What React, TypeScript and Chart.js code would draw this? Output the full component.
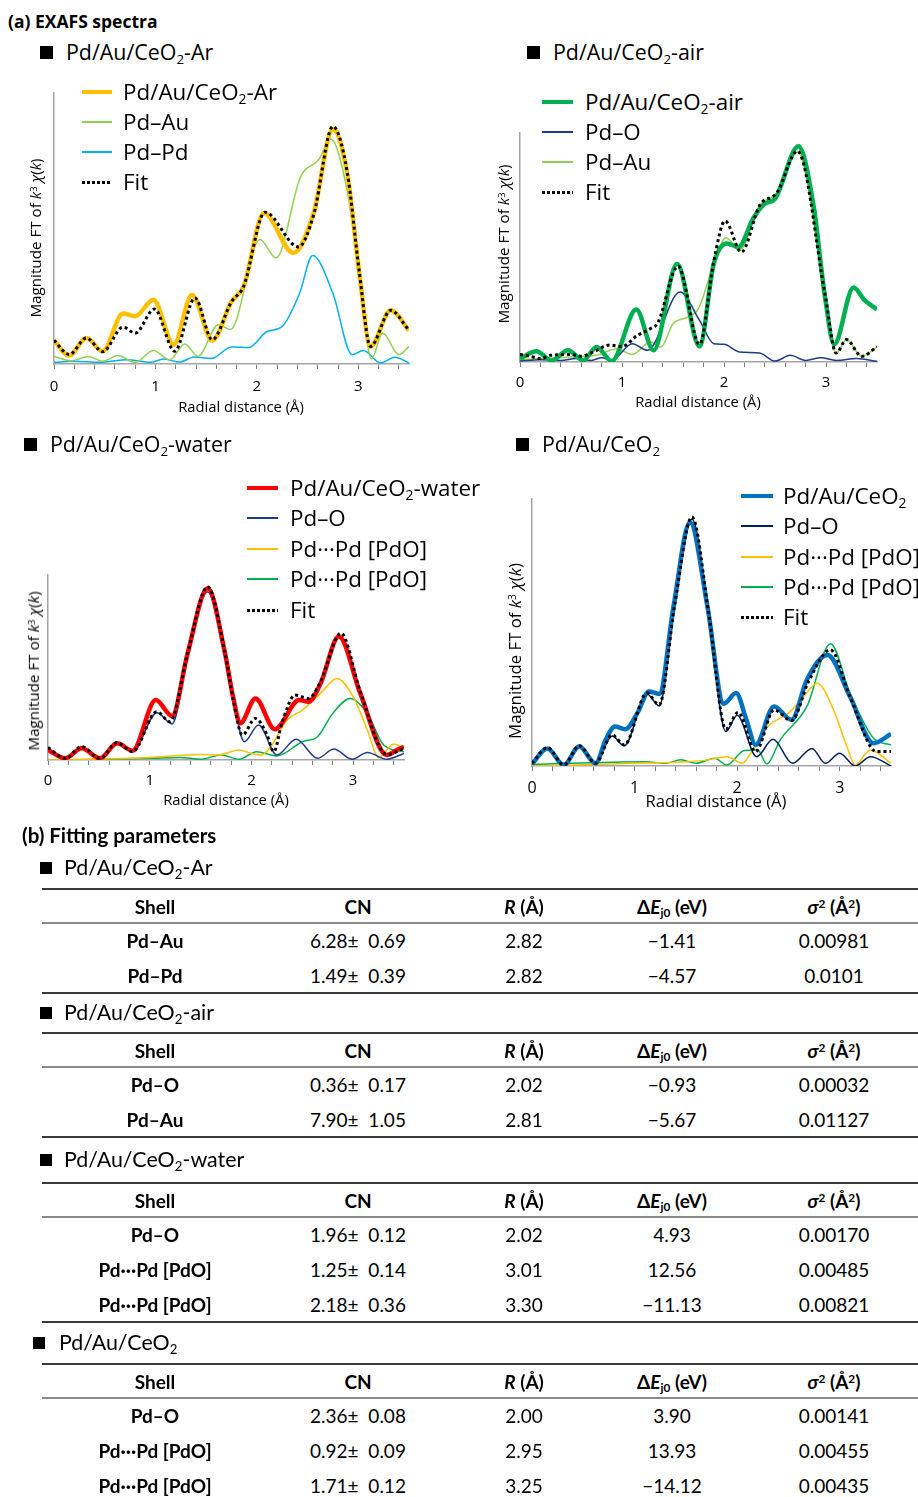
import React, { useEffect, useRef } from 'react';
import { Chart, registerables } from 'chart.js';

Chart.register(...registerables);

type P = [number, number];

// ---------- axis ticks ----------
const xTickValues = [0, 0.2, 0.4, 0.6, 0.8, 1, 1.2, 1.4, 1.6, 1.8, 2, 2.2, 2.4, 2.6, 2.8, 3, 3.2, 3.4];
const xTickLabels = ['0', '1', '2', '3'];

// ---------- (1) Pd/Au/CeO2-Ar ----------
const arMain: P[] = [[0, 8.7], [0.15, 3.1], [0.32, 9.6], [0.48, 4.7], [0.68, 18.6], [0.8, 17.6], [0.98, 23.7], [1.18, 7.1], [1.36, 25.5], [1.56, 8.7], [1.75, 23], [1.87, 28.7], [2.07, 55.7], [2.36, 41], [2.56, 55.7], [2.75, 86.7], [2.89, 70.5], [3.01, 33.6], [3.12, 6.5], [3.32, 19.8], [3.5, 12.4]];
const arFit: P[] = [[0, 8.7], [0.15, 3.5], [0.32, 9.6], [0.48, 4.5], [0.68, 13.6], [0.8, 11.4], [0.99, 20.3], [1.19, 4.7], [1.39, 24.4], [1.56, 9], [1.75, 23], [1.87, 28.7], [2.08, 56], [2.41, 43.2], [2.56, 55], [2.75, 87.7], [2.89, 71], [3.01, 34], [3.12, 6.5], [3.32, 19.8], [3.5, 12.4]];
const arPdAu: P[] = [[0, 2.8], [0.17, 1.2], [0.34, 2.8], [0.48, 1], [0.63, 3.1], [0.8, 0.6], [0.98, 5], [1.14, 1.6], [1.29, 7.4], [1.42, 2.8], [1.62, 14.5], [1.74, 12.7], [2.03, 45.9], [2.19, 39.1], [2.43, 69], [2.61, 75.4], [2.73, 83], [2.88, 66], [3.01, 33.6], [3.13, 1.8], [3.24, 11.4], [3.4, 3.4], [3.5, 6.5]];
const arPdPd: P[] = [[0, 0.6], [0.2, 1], [0.45, 0.6], [0.72, 1.6], [0.95, 0.6], [1.08, 1.8], [1.24, 0.7], [1.38, 2.6], [1.55, 2], [1.75, 6.3], [1.92, 6.1], [2.1, 12], [2.25, 13.9], [2.42, 26], [2.55, 40], [2.75, 26], [2.94, 3.4], [3.05, 5], [3.22, 0.4], [3.36, 2.5], [3.5, 0.4]];

// ---------- (2) Pd/Au/CeO2-air ----------
const airMain: P[] = [[0, 1.5], [0.16, 4.7], [0.31, 0.7], [0.47, 5.1], [0.62, 0.7], [0.75, 6.6], [0.9, 0.4], [1.14, 22.9], [1.31, 5.1], [1.54, 42.9], [1.76, 6.8], [1.9, 42.9], [2.03, 51.7], [2.14, 50.2], [2.29, 63], [2.4, 69.1], [2.5, 71.3], [2.73, 94.2], [2.88, 67.7], [2.99, 28.4], [3.08, 7.7], [3.27, 32.5], [3.38, 26.9], [3.5, 22.9]];
const airFit: P[] = [[0, 3.3], [0.1, 2.5], [0.2, 1.5], [0.3, 2.9], [0.5, 3.3], [0.6, 2.5], [0.75, 5.1], [0.88, 7.4], [1.0, 6.8], [1.15, 11.6], [1.28, 14.6], [1.35, 17], [1.55, 41.8], [1.76, 7.7], [1.9, 44], [2.01, 61.6], [2.17, 48], [2.35, 68.4], [2.52, 74], [2.72, 92.1], [2.99, 29.8], [3.1, 3.9], [3.2, 9.8], [3.35, 2.5], [3.5, 6.6]];
const airPdO: P[] = [[0, 0.4], [0.2, 1], [0.4, 0.7], [0.55, 1.5], [0.7, 0.7], [0.8, 1.9], [0.9, 0.7], [1.1, 8], [1.25, 5.1], [1.57, 30.6], [1.76, 18.2], [1.9, 8], [2.0, 7.7], [2.15, 4.4], [2.35, 3.9], [2.5, 0.4], [2.65, 2.9], [2.8, 0.7], [2.95, 1.9], [3.1, 0.7], [3.3, 1.5], [3.5, 0.3]];
const airPdAu: P[] = [[0, 1], [0.25, 1.5], [0.5, 2.2], [0.75, 2.9], [0.95, 5.8], [1.1, 3.3], [1.28, 8.7], [1.38, 6.4], [1.5, 16.7], [1.65, 19.7], [1.75, 23.3], [1.9, 42.9], [2.02, 54.3], [2.15, 48.8], [2.35, 68.4], [2.52, 73.8], [2.72, 91.7], [2.99, 29.8], [3.1, 3.9], [3.2, 9.8], [3.35, 2.5], [3.5, 6.6]];

// ---------- (3) Pd/Au/CeO2-water ----------
const waterMain: P[] = [[0, 5.4], [0.17, 0.9], [0.33, 6.3], [0.51, 0.9], [0.68, 9], [0.83, 5], [1.06, 32.4], [1.22, 23.8], [1.37, 57], [1.57, 92.8], [1.74, 57.7], [1.82, 34], [1.89, 19.8], [2.04, 33.3], [2.23, 16.6], [2.47, 32.4], [2.56, 31.5], [2.68, 41.4], [2.86, 66.7], [3.07, 36], [3.33, 2.7], [3.43, 5.4], [3.5, 7.2]];
const waterFit: P[] = [[0, 6.7], [0.17, 0.9], [0.33, 7.2], [0.51, 0.9], [0.68, 9.4], [0.83, 4.5], [1.07, 26.1], [1.2, 20.7], [1.37, 57], [1.57, 93.7], [1.74, 58], [1.82, 33], [1.91, 13.5], [2.04, 22.5], [2.15, 14], [2.22, 4.5], [2.3, 20], [2.43, 35.1], [2.56, 33.3], [2.68, 42.3], [2.88, 68.5], [3.07, 37], [3.33, 3], [3.5, 6.3]];
const waterPdO: P[] = [[0, 6.3], [0.17, 0.9], [0.33, 6.7], [0.51, 0.9], [0.68, 9], [0.83, 4.5], [1.07, 25.6], [1.22, 19.5], [1.37, 55], [1.57, 91], [1.74, 56], [1.83, 30], [1.93, 9.9], [2.07, 18.9], [2.25, 2.7], [2.44, 11.2], [2.65, 0.9], [2.81, 5.9], [2.99, 0.4], [3.14, 4.1], [3.33, 0.4], [3.5, 3.6]];
const waterPdPdA: P[] = [[0, 0], [0.5, 0.5], [1.0, 1.4], [1.5, 3], [1.67, 2.7], [1.88, 5.4], [2.0, 3.5], [2.1, 2.7], [2.2, 8], [2.35, 21.6], [2.5, 27], [2.68, 36], [2.84, 44.1], [3.0, 34.2], [3.14, 16.2], [3.25, 1.4], [3.4, 8.6], [3.5, 6.3]];
const waterPdPdB: P[] = [[0, 0], [0.5, 0.3], [1.0, 0.9], [1.3, 1.4], [1.5, 0.4], [1.7, 2.7], [1.88, 0.4], [2.05, 4.5], [2.25, 2.2], [2.5, 9.9], [2.65, 12.6], [2.8, 25.2], [2.97, 33.3], [3.14, 25.2], [3.3, 8.1], [3.5, 4.5]];

// ---------- (4) Pd/Au/CeO2 ----------
const ceMain: P[] = [[0, 0.75], [0.15, 6.6], [0.31, 0.4], [0.46, 7.3], [0.62, 1], [0.72, 10], [0.81, 14.8], [0.91, 13.8], [1.03, 20], [1.14, 27.9], [1.24, 27], [1.38, 59.8], [1.54, 91.3], [1.71, 59.8], [1.87, 23.3], [1.99, 27.3], [2.09, 17.3], [2.18, 7.9], [2.36, 22.3], [2.53, 17.3], [2.68, 32.3], [2.88, 41.6], [3.1, 26], [3.33, 8.5], [3.5, 12]];
const ceFit: P[] = [[0, 1], [0.15, 6.9], [0.31, 0.4], [0.46, 7.6], [0.62, 1], [0.78, 11.6], [0.9, 7.9], [1.12, 27.3], [1.24, 22.9], [1.39, 60], [1.56, 93.3], [1.72, 58], [1.89, 13.8], [2.01, 20.1], [2.18, 5.4], [2.36, 21], [2.53, 17], [2.7, 32], [2.91, 43.5], [3.1, 26], [3.36, 5.4], [3.5, 5.4]];
const cePdO: P[] = [[0, 0.75], [0.15, 6.6], [0.31, 0.4], [0.46, 7.3], [0.62, 1], [0.78, 11.2], [0.9, 7.6], [1.12, 27], [1.24, 22.5], [1.39, 59.5], [1.56, 92.5], [1.72, 57.5], [1.89, 12.9], [2.0, 19], [2.19, 3.5], [2.35, 10], [2.54, 1], [2.73, 6.6], [2.86, 1], [3.0, 4.8], [3.15, 0], [3.3, 3.5], [3.5, 0]];
const cePdPdA: P[] = [[0, 0], [1.0, 1], [1.5, 1.6], [1.7, 2.2], [1.9, 3.5], [2.05, 1], [2.12, 4], [2.3, 14.8], [2.5, 19.8], [2.65, 26], [2.78, 31], [2.94, 21], [3.07, 7.3], [3.15, 0.4], [3.3, 6], [3.5, 1]];
const cePdPdB: P[] = [[0, 0.6], [1.1, 1.6], [1.3, 1], [1.45, 2.3], [1.6, 1], [1.78, 2.9], [1.9, 0.4], [2.07, 5.8], [2.2, 6], [2.29, 0.75], [2.42, 9.8], [2.68, 22.3], [2.91, 45.8], [3.1, 27.3], [3.33, 10.4], [3.5, 7.9]];

// ---------- tables ----------
const headCols = ['Shell', 'CN', 'R (Å)', 'ΔEj0 (eV)', 'σ2 (Å2)'];
const t1Shell = ['Pd–Au', 'Pd–Pd'];
const t1CN = ['6.28± 0.69', '1.49± 0.39'];
const t1R = ['2.82', '2.82'];
const t1E = ['−1.41', '−4.57'];
const t1S = ['0.00981', '0.0101'];
const t2Shell = ['Pd–O', 'Pd–Au'];
const t2CN = ['0.36± 0.17', '7.90± 1.05'];
const t2R = ['2.02', '2.81'];
const t2E = ['−0.93', '−5.67'];
const t2S = ['0.00032', '0.01127'];
const t3Shell = ['Pd–O', 'Pd···Pd [PdO]', 'Pd···Pd [PdO]'];
const t3CN = ['1.96± 0.12', '1.25± 0.14', '2.18± 0.36'];
const t3R = ['2.02', '3.01', '3.30'];
const t3E = ['4.93', '12.56', '−11.13'];
const t3S = ['0.00170', '0.00485', '0.00821'];
const t4Shell = ['Pd–O', 'Pd···Pd [PdO]', 'Pd···Pd [PdO]'];
const t4CN = ['2.36± 0.08', '0.92± 0.09', '1.71± 0.12'];
const t4R = ['2.00', '2.95', '3.25'];
const t4E = ['3.90', '13.93', '−14.12'];
const t4S = ['0.00141', '0.00455', '0.00435'];

// ---------- colours ----------
const C_AR = '#ffc000';
const C_AU = '#92d050';
const C_PDPD = '#00b0f0';
const C_AIR = '#00b050';
const C_PDO = '#1f3c88';
const C_WATER = '#ff0000';
const C_YEL = '#ffc000';
const C_GRN = '#00b050';
const C_CE = '#0070c0';
const C_PDO4 = '#002060';

const CHART_FONT = '"Open Sans", "Noto Sans", sans-serif';
const TABLE_FONT = 'Lato, "Noto Sans", sans-serif';

type Series = { label: string; data: P[]; color: string; width: number; dash?: boolean; order: number };

function ExafsChart(props: { left: number; top: number; plotW: number; plotH: number; series: Series[]; tickSize: number; tickPad: number }) {
  const ref = useRef<HTMLCanvasElement>(null);
  const padL = 30, padT = 8, padR = 14, padB = 40;
  const W = props.plotW + padL + padR;
  const H = props.plotH + padT + padB;
  useEffect(() => {
    const chart = new Chart(ref.current as HTMLCanvasElement, {
      type: 'line',
      data: {
        datasets: props.series.map((s) => ({
          label: s.label,
          data: s.data.map(([x, y]) => ({ x, y })),
          borderColor: s.color,
          backgroundColor: s.color,
          borderWidth: s.width,
          borderDash: s.dash ? [3, 3] : [],
          borderCapStyle: 'butt',
          borderJoinStyle: 'round',
          pointRadius: 0,
          fill: false,
          cubicInterpolationMode: 'monotone',
          order: s.order,
        })),
      },
      options: {
        animation: false,
        responsive: false,
        maintainAspectRatio: false,
        layout: { padding: { left: 0, top: padT, right: padR, bottom: 0 } },
        plugins: { legend: { display: false }, tooltip: { enabled: false }, title: { display: false } },
        scales: {
          x: {
            type: 'linear',
            min: 0,
            max: 3.5,
            afterBuildTicks: (s: any) => {
              s.ticks = xTickValues.map((v) => ({ value: v }));
            },
            afterFit: (s: any) => {
              s.height = padB;
            },
            ticks: {
              autoSkip: false,
              maxRotation: 0,
              padding: props.tickPad,
              color: '#000',
              font: { family: CHART_FONT, size: props.tickSize },
              callback: (v: any) => {
                const n = Number(v);
                const i = Math.round(n);
                return Math.abs(n - i) < 1e-6 ? xTickLabels[i] : '';
              },
            },
            grid: { drawOnChartArea: false, drawTicks: true, tickLength: 5, color: '#7f7f7f', lineWidth: 1 },
            border: { display: true, color: '#a6a6a6', width: 1.5 },
          },
          y: {
            min: 0,
            max: 100,
            afterFit: (s: any) => {
              s.width = padL;
            },
            ticks: { display: false },
            grid: { display: false },
            border: { display: true, color: '#a6a6a6', width: 1.5 },
          },
        },
      } as any,
    });
    return () => chart.destroy();
  }, []);
  return (
    <canvas
      ref={ref}
      width={W}
      height={H}
      style={{ position: 'absolute', left: props.left - padL, top: props.top - padT, width: W, height: H }}
    />
  );
}

const Sub = ({ children }: { children: any }) => (
  <sub style={{ fontSize: '0.62em', verticalAlign: '-0.32em', lineHeight: 0 }}>{children}</sub>
);
const Sup = ({ children }: { children: any }) => (
  <sup style={{ fontSize: '0.62em', verticalAlign: '0.45em', lineHeight: 0 }}>{children}</sup>
);

function Txt(p: { x: number; y: number; size: number; bold?: boolean; family?: string; center?: boolean; children: any }) {
  return (
    <div
      style={{
        position: 'absolute',
        left: p.x,
        top: p.y,
        transform: `translate(${p.center ? '-50%' : '0'}, -50%)`,
        fontSize: p.size,
        fontWeight: p.bold ? 700 : 400,
        fontFamily: p.family || CHART_FONT,
        whiteSpace: 'nowrap',
        lineHeight: 1.2,
        color: '#000',
      }}
    >
      {p.children}
    </div>
  );
}

function Square({ x, y, s = 13 }: { x: number; y: number; s?: number }) {
  return <div style={{ position: 'absolute', left: x, top: y - s / 2, width: s, height: s, background: '#000' }} />;
}

function YTitle({ x, y, size }: { x: number; y: number; size: number }) {
  return (
    <div
      style={{
        position: 'absolute',
        left: x,
        top: y,
        transform: 'translate(-50%, -50%) rotate(-90deg)',
        fontSize: size,
        fontFamily: CHART_FONT,
        whiteSpace: 'nowrap',
        lineHeight: 1.2,
        color: '#000',
      }}
    >
      Magnitude FT of <i>k</i>
      <Sup>3</Sup> <i>χ</i>(<i>k</i>)
    </div>
  );
}

type LegItem = { label: any; color: string; kind: 'thick' | 'thin' | 'dot' };

function Legend({ x1, x2, tx, ys, items, size }: { x1: number; x2: number; tx: number; ys: number[]; items: LegItem[]; size: number }) {
  return (
    <>
      {items.map((it, i) => {
        const h = it.kind === 'thick' ? 4 : it.kind === 'dot' ? 3 : 1.5;
        const bg =
          it.kind === 'dot'
            ? 'repeating-linear-gradient(to right, #000 0 3px, transparent 3px 5px)'
            : it.color;
        return (
          <React.Fragment key={i}>
            <div style={{ position: 'absolute', left: x1, top: ys[i] - h / 2, width: x2 - x1, height: h, background: bg }} />
            <Txt x={tx} y={ys[i]} size={size}>
              {it.label}
            </Txt>
          </React.Fragment>
        );
      })}
    </>
  );
}

const PdAuCeO2 = (suffix: string) => (
  <>
    Pd/Au/CeO<Sub>2</Sub>
    {suffix}
  </>
);

function HeadCell({ i }: { i: number }) {
  if (i === 2)
    return (
      <>
        <i>R</i> (Å)
      </>
    );
  if (i === 3)
    return (
      <>
        Δ<i>E</i>
        <Sub>j0</Sub> (eV)
      </>
    );
  if (i === 4)
    return (
      <>
        <i>σ</i>
        <Sup>2</Sup> (Å<Sup>2</Sup>)
      </>
    );
  return <>{headCols[i]}</>;
}

const colX = [155, 358, 524, 672, 834];

function Table({ top, cols, showBottom = true }: { top: number; cols: string[][]; showBottom?: boolean }) {
  const n = cols[0].length;
  const lineL = 42;
  const lineW = 918 - lineL;
  const headerLine = top + 34;
  const bottom = headerLine + 35 * n;
  return (
    <>
      <div style={{ position: 'absolute', left: lineL, top: top - 1, width: lineW, height: 2, background: '#3a3a3a' }} />
      {headCols.map((_, i) => (
        <Txt key={'h' + i} x={colX[i]} y={top + 18} size={19} bold center family={TABLE_FONT}>
          <HeadCell i={i} />
        </Txt>
      ))}
      <div style={{ position: 'absolute', left: lineL, top: headerLine - 1, width: lineW, height: 2, background: '#8a8a8a' }} />
      {cols[0].map((_, r) =>
        cols.map((col, c) => (
          <Txt key={r + '-' + c} x={colX[c]} y={headerLine + 18 + 35 * r} size={19} bold={c === 0} center family={TABLE_FONT}>
            {c === 1 ? col[r].replace(' ', '\u00a0\u00a0') : col[r]}
          </Txt>
        )),
      )}
      {showBottom && (
        <div style={{ position: 'absolute', left: lineL, top: bottom - 1, width: lineW, height: 2, background: '#3a3a3a' }} />
      )}
    </>
  );
}

export default function App() {
  const ar: Series[] = [
    { label: 'Pd/Au/CeO2-Ar', data: arMain, color: C_AR, width: 4.5, order: 1 },
    { label: 'Pd–Au', data: arPdAu, color: C_AU, width: 1.5, order: 2 },
    { label: 'Pd–Pd', data: arPdPd, color: C_PDPD, width: 1.5, order: 3 },
    { label: 'Fit', data: arFit, color: '#000', width: 3, dash: true, order: 0 },
  ];
  const air: Series[] = [
    { label: 'Pd/Au/CeO2-air', data: airMain, color: C_AIR, width: 4.5, order: 1 },
    { label: 'Pd–O', data: airPdO, color: C_PDO, width: 1.5, order: 2 },
    { label: 'Pd–Au', data: airPdAu, color: C_AU, width: 1.5, order: 3 },
    { label: 'Fit', data: airFit, color: '#000', width: 3, dash: true, order: 0 },
  ];
  const water: Series[] = [
    { label: 'Pd/Au/CeO2-water', data: waterMain, color: C_WATER, width: 4.5, order: 1 },
    { label: 'Pd–O', data: waterPdO, color: C_PDO, width: 1.5, order: 2 },
    { label: 'Pd···Pd [PdO]', data: waterPdPdA, color: C_YEL, width: 1.5, order: 3 },
    { label: 'Pd···Pd [PdO]', data: waterPdPdB, color: C_GRN, width: 1.5, order: 4 },
    { label: 'Fit', data: waterFit, color: '#000', width: 3, dash: true, order: 0 },
  ];
  const ce: Series[] = [
    { label: 'Pd/Au/CeO2', data: ceMain, color: C_CE, width: 4.5, order: 1 },
    { label: 'Pd–O', data: cePdO, color: C_PDO4, width: 1.5, order: 2 },
    { label: 'Pd···Pd [PdO]', data: cePdPdA, color: C_YEL, width: 1.5, order: 3 },
    { label: 'Pd···Pd [PdO]', data: cePdPdB, color: C_GRN, width: 1.5, order: 4 },
    { label: 'Fit', data: ceFit, color: '#000', width: 3, dash: true, order: 0 },
  ];

  const LEG = 22.4;
  const SEC = 21.4;

  return (
    <div style={{ position: 'absolute', left: 0, top: 0, width: 918, height: 1497, background: '#fff', overflow: 'hidden' }}>
      {/* (a) */}
      <Txt x={8} y={21} size={17.5} bold>
        (a) EXAFS spectra
      </Txt>

      {/* chart 1 */}
      <Square x={40} y={52} />
      <Txt x={66} y={52} size={SEC}>{PdAuCeO2('-Ar')}</Txt>
      <ExafsChart left={54} top={93} plotW={355} plotH={271} series={ar} tickSize={15} tickPad={9} />
      <Legend
        x1={82}
        x2={112}
        tx={123}
        ys={[92, 122, 152, 182]}
        size={LEG}
        items={[
          { label: PdAuCeO2('-Ar'), color: C_AR, kind: 'thick' },
          { label: 'Pd–Au', color: C_AU, kind: 'thin' },
          { label: 'Pd–Pd', color: C_PDPD, kind: 'thin' },
          { label: 'Fit', color: '#000', kind: 'dot' },
        ]}
      />
      <YTitle x={35} y={238} size={15.2} />
      <Txt x={241} y={407} size={14.8} center>
        Radial distance (Å)
      </Txt>

      {/* chart 2 */}
      <Square x={527} y={52} />
      <Txt x={553} y={52} size={SEC}>{PdAuCeO2('-air')}</Txt>
      <ExafsChart left={520} top={133} plotW={357} plotH={229} series={air} tickSize={15} tickPad={7} />
      <Legend
        x1={542}
        x2={573}
        tx={585}
        ys={[102, 132, 162, 192]}
        size={LEG}
        items={[
          { label: PdAuCeO2('-air'), color: C_AIR, kind: 'thick' },
          { label: 'Pd–O', color: C_PDO, kind: 'thin' },
          { label: 'Pd–Au', color: C_AU, kind: 'thin' },
          { label: 'Fit', color: '#000', kind: 'dot' },
        ]}
      />
      <YTitle x={503} y={244} size={15.2} />
      <Txt x={698} y={402} size={14.8} center>
        Radial distance (Å)
      </Txt>

      {/* chart 3 */}
      <Square x={24} y={444} />
      <Txt x={50} y={444} size={SEC}>{PdAuCeO2('-water')}</Txt>
      <ExafsChart left={48} top={575} plotW={356} plotH={185} series={water} tickSize={15} tickPad={7} />
      <Legend
        x1={247}
        x2={278}
        tx={290}
        ys={[488, 518, 549, 579, 610]}
        size={LEG}
        items={[
          { label: PdAuCeO2('-water'), color: C_WATER, kind: 'thick' },
          { label: 'Pd–O', color: C_PDO, kind: 'thin' },
          { label: 'Pd···Pd [PdO]', color: C_YEL, kind: 'thin' },
          { label: 'Pd···Pd [PdO]', color: C_GRN, kind: 'thin' },
          { label: 'Fit', color: '#000', kind: 'dot' },
        ]}
      />
      <YTitle x={33} y={671} size={15.2} />
      <Txt x={226} y={800} size={14.8} center>
        Radial distance (Å)
      </Txt>

      {/* chart 4 */}
      <Square x={516} y={444} />
      <Txt x={542} y={444} size={SEC}>{PdAuCeO2('')}</Txt>
      <ExafsChart left={532} top={499} plotW={359} plotH={267} series={ce} tickSize={16} tickPad={8} />
      <Legend
        x1={741}
        x2={773}
        tx={783}
        ys={[496, 526, 557, 587, 617]}
        size={LEG}
        items={[
          { label: PdAuCeO2(''), color: C_CE, kind: 'thick' },
          { label: 'Pd–O', color: C_PDO4, kind: 'thin' },
          { label: 'Pd···Pd [PdO]', color: C_YEL, kind: 'thin' },
          { label: 'Pd···Pd [PdO]', color: C_GRN, kind: 'thin' },
          { label: 'Fit', color: '#000', kind: 'dot' },
        ]}
      />
      <YTitle x={515} y={651} size={16.8} />
      <Txt x={716} y={801} size={16.6} center>
        Radial distance (Å)
      </Txt>

      {/* (b) */}
      <Txt x={22} y={835} size={20.5} bold family={TABLE_FONT}>
        (b) Fitting parameters
      </Txt>

      <Square x={40} y={868} s={12} />
      <Txt x={64} y={868} size={SEC} family={TABLE_FONT}>{PdAuCeO2('-Ar')}</Txt>
      <Table top={889} cols={[t1Shell, t1CN, t1R, t1E, t1S]} />

      <Square x={40} y={1013} s={12} />
      <Txt x={64} y={1013} size={SEC} family={TABLE_FONT}>{PdAuCeO2('-air')}</Txt>
      <Table top={1033} cols={[t2Shell, t2CN, t2R, t2E, t2S]} />

      <Square x={40} y={1160} s={12} />
      <Txt x={64} y={1160} size={SEC} family={TABLE_FONT}>{PdAuCeO2('-water')}</Txt>
      <Table top={1183} cols={[t3Shell, t3CN, t3R, t3E, t3S]} />

      <Square x={33} y={1343} s={12} />
      <Txt x={59} y={1343} size={SEC} family={TABLE_FONT}>{PdAuCeO2('')}</Txt>
      <Table top={1364} cols={[t4Shell, t4CN, t4R, t4E, t4S]} showBottom={false} />
    </div>
  );
}
